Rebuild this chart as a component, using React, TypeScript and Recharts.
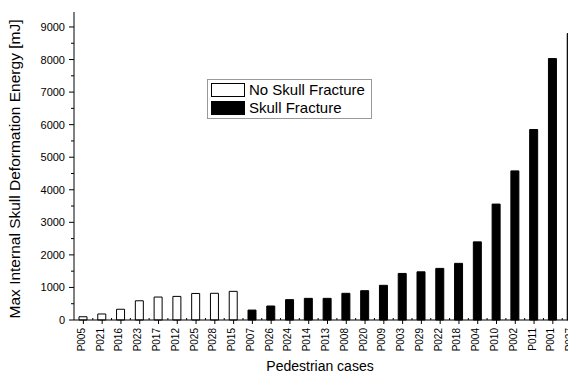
import React from 'react'
import { BarChart, Bar, XAxis, YAxis, Legend, Cell } from 'recharts'

// pedestrian cases, sorted as in the figure
const cases = [
  'P005', 'P021', 'P016', 'P023', 'P017', 'P012', 'P025', 'P028', 'P015',
  'P007', 'P026', 'P024', 'P014', 'P013', 'P008', 'P020', 'P009', 'P003',
  'P029', 'P022', 'P018', 'P004', 'P010', 'P002', 'P011', 'P001', 'P027',
]
const energy = [
  100, 185, 330, 590, 705, 725, 815, 820, 880,
  305, 430, 625, 665, 665, 820, 900, 1065, 1430,
  1480, 1585, 1740, 2400, 3560, 4580, 5850, 8030, 8800,
]
const fracture = [
  false, false, false, false, false, false, false, false, false,
  true, true, true, true, true, true, true, true, true,
  true, true, true, true, true, true, true, true, true,
]
const yTicks = [0, 500, 1000, 1500, 2000, 2500, 3000, 3500, 4000, 4500, 5000, 5500, 6000, 6500, 7000, 7500, 8000, 8500, 9000]
const legendLabels = ['No Skull Fracture', 'Skull Fracture']

const data = cases.map((c, i) => ({ name: c, energy: energy[i], fracture: fracture[i] }))

const FONT = '"Liberation Sans", Arial, sans-serif'
const W = 600
const H = 374
const M = { top: 12, right: 19, bottom: 0, left: 0 }
const Y_W = 74
const band = (W - M.left - M.right - Y_W) / cases.length

const XTick = (props: any) => {
  const { x, y, payload } = props
  return (
    <g>
      <line x1={x} y1={y} x2={x} y2={y + 4} stroke="#000" />
      <line x1={x + band / 2} y1={y} x2={x + band / 2} y2={y - 2} stroke="#000" />
      <text
        x={x - 2}
        y={y + 8}
        transform={`rotate(-90 ${x - 2} ${y + 8})`}
        textAnchor="end"
        dominantBaseline="central"
        fontSize={10}
        fontFamily={FONT}
        fill="#000"
      >
        {payload.value}
      </text>
    </g>
  )
}

const YTick = (props: any) => {
  const { x, y, payload } = props
  const major = payload.value % 1000 === 0
  return (
    <g>
      <line x1={x} y1={y} x2={x - (major ? 5 : 3)} y2={y} stroke="#000" />
      {major && (
        <text x={x - 9} y={y} textAnchor="end" dominantBaseline="central" fontSize={11} fontFamily={FONT} fill="#000">
          {payload.value}
        </text>
      )}
    </g>
  )
}

const LegendBox = () => (
  <div
    style={{
      border: '1px solid #999',
      padding: '1px 4px 1px 3px',
      fontFamily: FONT,
      fontSize: 15,
      lineHeight: '18px',
      background: '#fff',
      width: 156,
    }}
  >
    {legendLabels.map((l, i) => (
      <div key={l} style={{ display: 'flex', alignItems: 'center', height: 18 }}>
        <span
          style={{
            display: 'inline-block',
            width: 32,
            height: 12,
            border: '1px solid #000',
            background: i === 0 ? '#fff' : '#000',
            marginRight: 4,
          }}
        />
        {l}
      </div>
    ))}
  </div>
)

export default function App() {
  return (
    <div style={{ position: 'fixed', left: 0, top: 0, width: 568, height: 374, overflow: 'hidden', background: '#fff' }}>
      <BarChart width={W} height={H} data={data} margin={M} barCategoryGap={0}>
        <XAxis
          dataKey="name"
          interval={0}
          height={54}
          tickSize={0}
          tickMargin={0}
          tick={<XTick />}
          axisLine={{ stroke: '#000' }}
          label={{
            content: () => (
              <text x={320} y={366} textAnchor="middle" dominantBaseline="central" fontSize={14} fontFamily={FONT} fill="#000">
                Pedestrian cases
              </text>
            ),
          }}
        />
        <YAxis
          width={Y_W}
          domain={[0, 9460]}
          ticks={yTicks}
          interval={0}
          tickSize={0}
          tickMargin={0}
          tick={<YTick />}
          axisLine={{ stroke: '#000' }}
          label={{
            content: () => (
              <text
                x={14}
                y={169}
                transform="rotate(-90 14 169)"
                textAnchor="middle"
                dominantBaseline="central"
                fontSize={15.5}
                fontFamily={FONT}
                fill="#000"
              >
                Max Internal Skull Deformation Energy [mJ]
              </text>
            ),
          }}
        />
        <Legend
          layout="vertical"
          align="center"
          verticalAlign="middle"
          content={<LegendBox />}
          wrapperStyle={{ position: 'absolute', left: 207, top: 79, width: 'auto' }}
        />
        <Bar dataKey="energy" barSize={8} isAnimationActive={false}>
          {data.map((d) => (
            <Cell key={d.name} fill={d.fracture ? '#000' : '#fff'} stroke="#000" strokeWidth={1} />
          ))}
        </Bar>
      </BarChart>
    </div>
  )
}
